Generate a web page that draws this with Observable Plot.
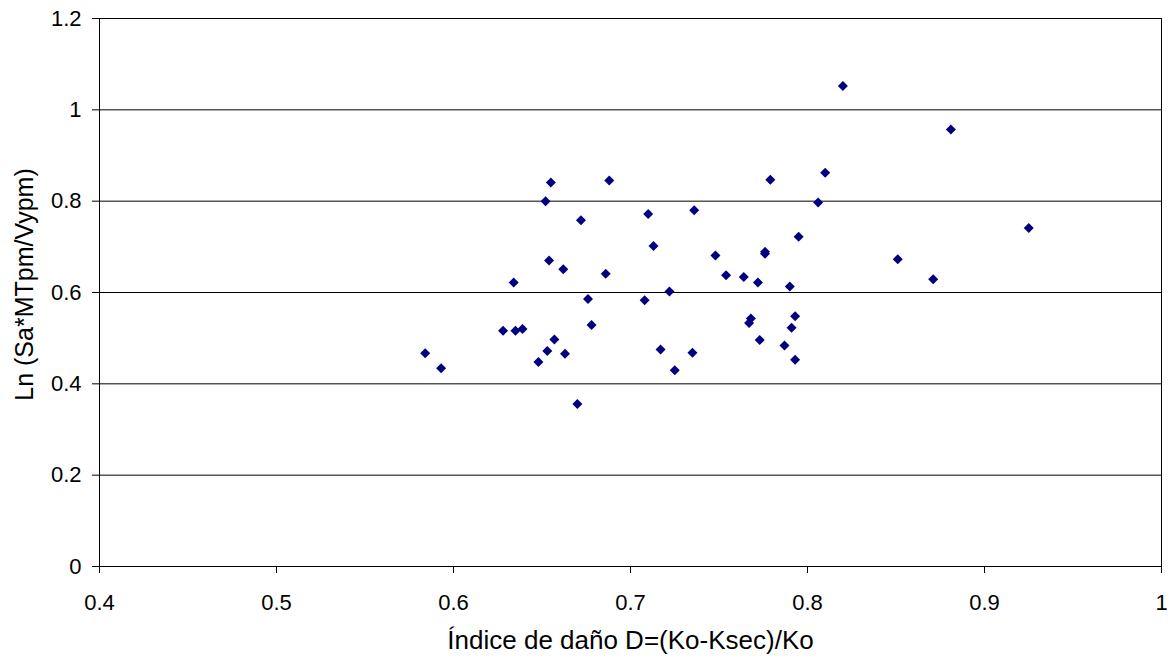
<!DOCTYPE html>
<html>
<head>
<meta charset="utf-8">
<script src="https://cdn.jsdelivr.net/npm/d3@7"></script>
<script src="https://cdn.jsdelivr.net/npm/@observablehq/plot@0.6"></script>
<style>
  html, body { margin: 0; padding: 0; background: #fff; }
  #chart { width: 1170px; height: 658px; }
</style>
</head>
<body>
<div id="chart"></div>
<script>
// Damage index D=(Ko-Ksec)/Ko
const dIndex = [
  0.584, 0.593, 0.628, 0.635, 0.639, 0.634, 0.648, 0.653, 0.657, 0.652,
  0.654, 0.655, 0.662, 0.663, 0.670, 0.672, 0.676, 0.678, 0.686, 0.688,
  0.708, 0.710, 0.713, 0.717, 0.722, 0.725, 0.735, 0.736, 0.748, 0.754,
  0.764, 0.767, 0.768, 0.772, 0.773, 0.776, 0.776, 0.779, 0.787, 0.790,
  0.791, 0.793, 0.793, 0.795, 0.806, 0.810, 0.820, 0.851, 0.871, 0.881,
  0.925
];
// Ln (Sa*MTpm/Vypm)
const lnRatio = [
  0.467, 0.434, 0.516, 0.516, 0.520, 0.622, 0.448, 0.472, 0.497, 0.800,
  0.670, 0.841, 0.651, 0.466, 0.356, 0.758, 0.586, 0.529, 0.641, 0.845,
  0.583, 0.772, 0.702, 0.475, 0.602, 0.430, 0.468, 0.780, 0.681, 0.638,
  0.634, 0.533, 0.543, 0.622, 0.496, 0.689, 0.685, 0.847, 0.484, 0.613,
  0.523, 0.548, 0.453, 0.722, 0.797, 0.862, 1.052, 0.673, 0.629, 0.957,
  0.741
];
const xTicks = [0.4, 0.5, 0.6, 0.7, 0.8, 0.9, 1.0];
const xTickLabels = ["0.4", "0.5", "0.6", "0.7", "0.8", "0.9", "1"];
const yTicks = [0, 0.2, 0.4, 0.6, 0.8, 1.0, 1.2];
const yTickLabels = ["0", "0.2", "0.4", "0.6", "0.8", "1", "1.2"];
const xTitle = "Índice de daño D=(Ko-Ksec)/Ko";
const yTitle = "Ln (Sa*MTpm/Vypm)";

const points = dIndex.map((d, i) => ({d, v: lnRatio[i]}));

const chart = Plot.plot({
  width: 1170,
  height: 658,
  marginLeft: 99,
  marginRight: 9,
  marginTop: 18,
  marginBottom: 92,
  style: {fontFamily: "'Liberation Sans', Arial, sans-serif", fontSize: "22px", color: "#000", background: "#fff"},
  x: {domain: [0.4, 1.0]},
  y: {domain: [0, 1.2]},
  marks: [
    Plot.ruleY(yTicks.filter(t => t > 0 && t < 1.2), {stroke: "#000", strokeWidth: 1}),
    Plot.frame({stroke: "#000", strokeWidth: 1}),
    Plot.axisX(xTicks, {
      tickSize: 7, tickPadding: 21, label: null, stroke: "#000",
      tickFormat: d => xTickLabels[xTicks.indexOf(d)]
    }),
    Plot.axisY(yTicks, {
      tickSize: 7, tickPadding: 11, label: null, stroke: "#000",
      tickFormat: d => yTickLabels[yTicks.indexOf(d)]
    }),
    Plot.dot(points, {x: "d", y: "v", symbol: "diamond2", r: 4.5, fill: "#000080", stroke: "none"}),
    Plot.text([xTitle], {frameAnchor: "bottom", textAnchor: "middle", lineAnchor: "middle", dy: 74, fontSize: 26, fill: "#000"}),
    Plot.text([yTitle], {frameAnchor: "left", textAnchor: "middle", lineAnchor: "middle", rotate: -90, dx: -75, dy: -8, fontSize: 25, fill: "#000"})
  ]
});
document.getElementById("chart").appendChild(chart);
</script>
</body>
</html>
